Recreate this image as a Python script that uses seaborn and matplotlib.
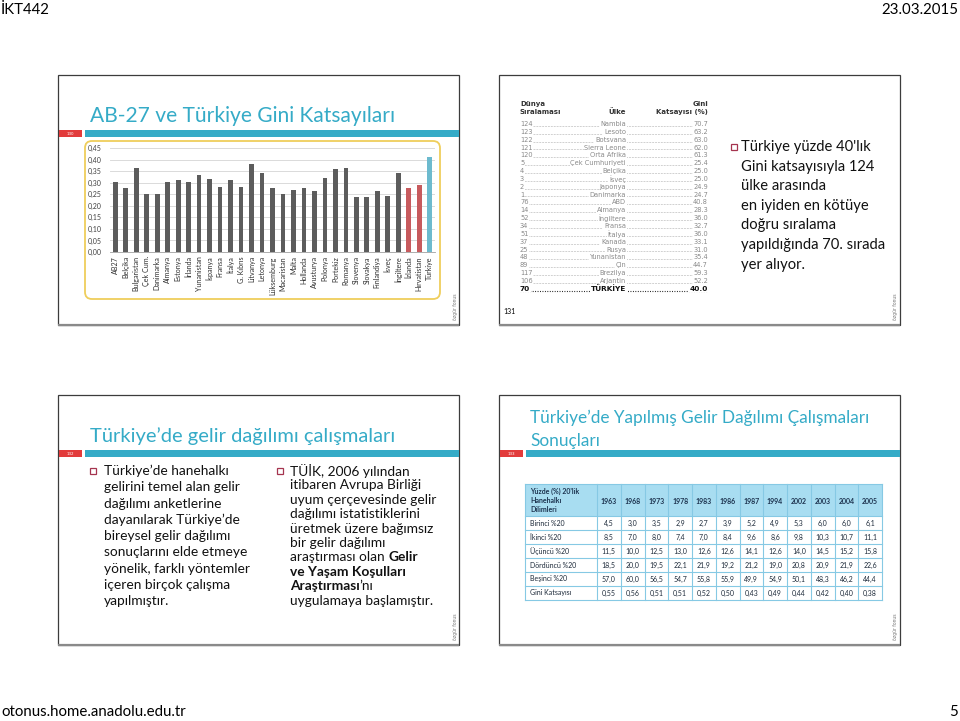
import numpy as np
import pandas as pd
import matplotlib
matplotlib.use("Agg")
import matplotlib.pyplot as plt
import matplotlib.patches as mpatches
import seaborn as sns

# --- data -------------------------------------------------------------
countries = ["AB27", "Belçika", "Bulgaristan", "Çek Cum.", "Danimarka", "Almanya",
             "Estonya", "İrlanda", "Yunanistan", "İspanya", "Fransa", "İtalya",
             "G. Kıbrıs", "Litvanya", "Letonya", "Lüksemburg", "Macaristan", "Malta",
             "Hollanda", "Avusturya", "Polonya", "Portekiz", "Romanya", "Slovenya",
             "Slovakya", "Finlandiya", "İsveç", "İngiltere", "İzlanda", "Hırvatistan",
             "Türkiye"]
gini = [0.305, 0.278, 0.362, 0.250, 0.252, 0.305, 0.313, 0.302, 0.335, 0.316, 0.282,
        0.312, 0.281, 0.381, 0.341, 0.278, 0.250, 0.270, 0.278, 0.263, 0.320, 0.360,
        0.362, 0.237, 0.238, 0.265, 0.241, 0.341, 0.275, 0.292, 0.412]
group = ["ab"] * 28 + ["aday", "aday", "tr"]
y_ticks = [0.00, 0.05, 0.10, 0.15, 0.20, 0.25, 0.30, 0.35, 0.40, 0.45]

ranks = [124, 123, 122, 121, 120, 5, 4, 3, 2, 1, 76, 14, 52, 34, 51, 37, 25, 48, 89,
         117, 106, 70]
rank_countries = ["Nambia", "Lesoto", "Botsvana", "Sierra Leone", "Orta Afrika",
                  "Çek Cumhuriyeti", "Belçika", "İsveç", "Japonya", "Danimarka", "ABD",
                  "Almanya", "İngiltere", "Fransa", "İtalya", "Kanada", "Rusya",
                  "Yunanistan", "Çin", "Brezilya", "Arjantin", "TÜRKİYE"]
rank_gini = [70.7, 63.2, 63.0, 62.0, 61.3, 25.4, 25.0, 25.0, 24.9, 24.7, 40.8, 28.3,
             36.0, 32.7, 36.0, 33.1, 31.0, 35.4, 44.7, 59.3, 52.2, 40.0]

years = [1963, 1968, 1973, 1978, 1983, 1986, 1987, 1994, 2002, 2003, 2004, 2005]
row_labels = ["Birinci %20", "İkinci %20", "Üçüncü %20", "Dördüncü %20",
              "Beşinci %20", "Gini Katsayısı"]
birinci = [4.5, 3.0, 3.5, 2.9, 2.7, 3.9, 5.2, 4.9, 5.3, 6.0, 6.0, 6.1]
ikinci = [8.5, 7.0, 8.0, 7.4, 7.0, 8.4, 9.6, 8.6, 9.8, 10.3, 10.7, 11.1]
ucuncu = [11.5, 10.0, 12.5, 13.0, 12.6, 12.6, 14.1, 12.6, 14.0, 14.5, 15.2, 15.8]
dorduncu = [18.5, 20.0, 19.5, 22.1, 21.9, 19.2, 21.2, 19.0, 20.8, 20.9, 21.9, 22.6]
besinci = [57.0, 60.0, 56.5, 54.7, 55.8, 55.9, 49.9, 54.9, 50.1, 48.3, 46.2, 44.4]
gini_tr = [0.55, 0.56, 0.51, 0.51, 0.52, 0.50, 0.43, 0.49, 0.44, 0.42, 0.40, 0.38]

text_131 = ["Türkiye yüzde 40'lık", "Gini katsayısıyla 124", "ülke arasında",
            "en iyiden en kötüye", "doğru sıralama", "yapıldığında 70. sırada",
            "yer alıyor."]
text_132_left = ["Türkiye’de hanehalkı", "gelirini temel alan gelir",
                 "dağılımı anketlerine", "dayanılarak Türkiye’de",
                 "bireysel gelir dağılımı", "sonuçlarını elde etmeye",
                 "yönelik, farklı yöntemler", "içeren birçok çalışma", "yapılmıştır."]
text_132_right = [[("TÜİK, 2006 yılından", "normal")],
                  [("itibaren Avrupa Birliği", "normal")],
                  [("uyum çerçevesinde gelir", "normal")],
                  [("dağılımı istatistiklerini", "normal")],
                  [("üretmek üzere bağımsız", "normal")],
                  [("bir gelir dağılımı", "normal")],
                  [("araştırması olan", "normal"), (" ", "gap"), ("Gelir", "bold")],
                  [("ve Yaşam Koşulları", "bold")],
                  [("Araştırması", "bold"), ("’nı", "normal")],
                  [("uygulamaya başlamıştır.", "normal")]]

TEAL = "#35abc7"
RED = "#e23b3b"
BULLET = "#a5344f"
FONT = "Lato"


def px(v):
    return v * 72 / 100


fig = plt.figure(figsize=(9.6, 7.21), dpi=100)
bg = fig.add_axes([0, 0, 1, 1])
bg.set_xlim(0, 960)
bg.set_ylim(721, 0)
bg.axis("off")
renderer = fig.canvas.get_renderer()


def txt(x, y, s, size, **kw):
    kw.setdefault("family", FONT)
    kw.setdefault("va", "center")
    return bg.text(x, y, s, fontsize=px(size), **kw)


def slide(x0, y0, x1, y1):
    bg.add_patch(mpatches.Rectangle((x0, y0), x1 - x0, y1 - y0, fill=False,
                                    ec="#3c3c3c", lw=0.9))
    bg.plot([x0, x1], [y1, y1], color="#8a8a8a", lw=1.6, solid_capstyle="butt")
    txt(x1 - 4, y1 - 18, "özgür fonus", 4.5, rotation=90, color="#777777",
        ha="center", family="DejaVu Sans")


def header_bar(x0, x1, y, num):
    bg.add_patch(mpatches.Rectangle((x0 + 1, y), 23, 7, color=RED, lw=0))
    txt(x0 + 12.5, y + 3.6, num, 4, color="white", ha="center", family="DejaVu Sans")
    bg.add_patch(mpatches.Rectangle((x0 + 27, y), x1 - x0 - 27, 7, color=TEAL, lw=0))


def bullet(x, y, size=6):
    bg.add_patch(mpatches.Rectangle((x, y - size / 2), size, size, fill=False,
                                    ec=BULLET, lw=0.9))


# --- page header / footer ---------------------------------------------
txt(1, 10, "İKT442", 15)
txt(958, 10, "23.03.2015", 15, ha="right")
txt(1, 712, "otonus.home.anadolu.edu.tr", 15)
txt(958, 712, "5", 15, ha="right")

# --- slide 130 --------------------------------------------------------
slide(58, 75, 459, 325)
header_bar(58, 459, 130, "130")
txt(90, 116, "AB-27 ve Türkiye Gini Katsayıları", 21, color=TEAL)
bg.add_patch(mpatches.FancyBboxPatch((85, 141), 355, 158,
                                     boxstyle="round,pad=0,rounding_size=7",
                                     fill=False, ec="#efce5c", lw=1.3))

df = pd.DataFrame({"ulke": countries, "gini": gini, "grup": group})
ax = fig.add_axes([110 / 960, 1 - 252 / 721, 325 / 960, 104 / 721])
sns.barplot(data=df, x="ulke", y="gini", hue="grup", dodge=False, width=0.45,
            palette={"ab": "#5c5c5c", "aday": "#d9484c", "tr": "#5cc3de"},
            legend=False, ax=ax, zorder=3)
ax.set_ylim(0, 0.45)
ax.set_xlim(-0.5, len(countries) - 0.5)
ax.set_yticks(y_ticks)
ax.set_yticklabels([f"{v:.2f}".replace(".", ",") for v in y_ticks],
                   fontsize=px(7), family=FONT, color="#404040")
ax.set_xticks(range(len(countries)))
ax.set_xticklabels(countries, rotation=90, fontsize=px(7.2), family=FONT,
                   color="#303030")
ax.tick_params(axis="x", length=0, pad=3)
ax.tick_params(axis="y", length=0, pad=6)
ax.grid(axis="y", color="#d4d4d4", lw=0.6, zorder=0)
ax.set_axisbelow(True)
for s in ["top", "right", "left"]:
    ax.spines[s].set_visible(False)
ax.spines["bottom"].set_color("#a0a0a0")
ax.spines["bottom"].set_linewidth(0.6)
ax.set_xlabel("")
ax.set_ylabel("")
ax.patch.set_alpha(0)

# --- slide 131 --------------------------------------------------------
slide(499, 75, 900, 325)
txt(503, 311, "131", 7)
hdr = dict(family="DejaVu Sans", weight="bold", color="#333333")
txt(520, 104, "Dünya", 7, **hdr)
txt(520, 112, "Sıralaması", 7, **hdr)
txt(626, 112, "Ülke", 7, ha="right", **hdr)
txt(708, 104, "Gini", 7, ha="right", **hdr)
txt(708, 112, "Katsayısı (%)", 7, ha="right", **hdr)
for i, (r, c, g) in enumerate(zip(ranks, rank_countries, rank_gini)):
    y = 124 + i * 7.85
    last = i == len(ranks) - 1
    col = "#111111" if last else "#8a8a8a"
    w = "bold" if last else "normal"
    size = 7.4 if last else 6.7
    bg.plot([520, 708], [y + 1.8, y + 1.8], color=col, lw=0.5 if not last else 0.8,
            linestyle=(0, (0.8, 1.4)))
    box = dict(fc="white", ec="none", pad=0.4)
    for xx, s, ha in [(520, str(r), "left"), (626, c, "right"), (708, f"{g:.1f}", "right")]:
        txt(xx, y, s, size, ha=ha, color=col, weight=w, family="DejaVu Sans", bbox=box)

bullet(731, 147)
for i, line in enumerate(text_131):
    txt(741, 147 + i * 19.6, line, 14.7, color="#111111")

# --- slide 132 --------------------------------------------------------
slide(58, 395, 459, 645)
header_bar(58, 459, 450, "132")
txt(90, 436, "Türkiye’de gelir dağılımı çalışmaları", 20.2, color=TEAL)
bullet(90, 471)
for i, line in enumerate(text_132_left):
    txt(104, 471 + i * 16.3, line, 13.8, color="#111111")
bullet(277, 471)
for i, runs in enumerate(text_132_right):
    x = 290
    y = 471 + i * 14.4
    for s, w in runs:
        if w == "gap":
            x += 3.4
            continue
        t = txt(x, y, s, 13.7, color="#111111", weight=w)
        x += t.get_window_extent(renderer=renderer).width

# --- slide 133 --------------------------------------------------------
slide(499, 395, 900, 645)
header_bar(499, 900, 450, "133")
txt(530, 418, "Türkiye’de Yapılmış Gelir Dağılımı Çalışmaları", 17.2, color=TEAL)
txt(530, 441, "Sonuçları", 17.2, color=TEAL)

tx0, tlab, tx1 = 525, 597, 882
ty0, ty1, rh = 484, 516, 14
cw = (tx1 - tlab) / len(years)
tb = ty1 + rh * len(row_labels)
bg.add_patch(mpatches.Rectangle((tx0, ty0), tx1 - tx0, ty1 - ty0, color="#a8ddf1", lw=0))
bg.add_patch(mpatches.Rectangle((tx0, ty1), tx1 - tx0, tb - ty1, color="white", lw=0))
grid_c = "#86c9e4"
for k in range(len(row_labels) + 2):
    yy = ty0 if k == 0 else ty1 + (k - 1) * rh
    bg.plot([tx0, tx1], [yy, yy], color=grid_c, lw=0.8)
for k in range(len(years) + 2):
    xx = tx0 if k == 0 else tlab + (k - 1) * cw
    bg.plot([xx, xx], [ty0, tb], color=grid_c, lw=0.8)

th = dict(weight="bold", color="#1d3450")
for j, line in enumerate(["Yüzde (%) 20'lik", "Hanehalkı", "Dilimleri"]):
    txt(530, 491 + j * 9.5, line, 7, **th)
for j, yr in enumerate(years):
    txt(tlab + (j + 0.5) * cw, 501, str(yr), 7, ha="center", **th)

table_rows = [birinci, ikinci, ucuncu, dorduncu, besinci, gini_tr]
for i, (lab, vals) in enumerate(zip(row_labels, table_rows)):
    y = ty1 + (i + 0.5) * rh
    txt(530, y, lab, 7, color="#1d2a3a")
    fmt = "{:.2f}" if lab.startswith("Gini") else "{:.1f}"
    for j, v in enumerate(vals):
        txt(tlab + (j + 0.5) * cw, y, fmt.format(v).replace(".", ","), 7,
            ha="center", color="#1d2a3a")

fig.savefig("out.png", dpi=100)
